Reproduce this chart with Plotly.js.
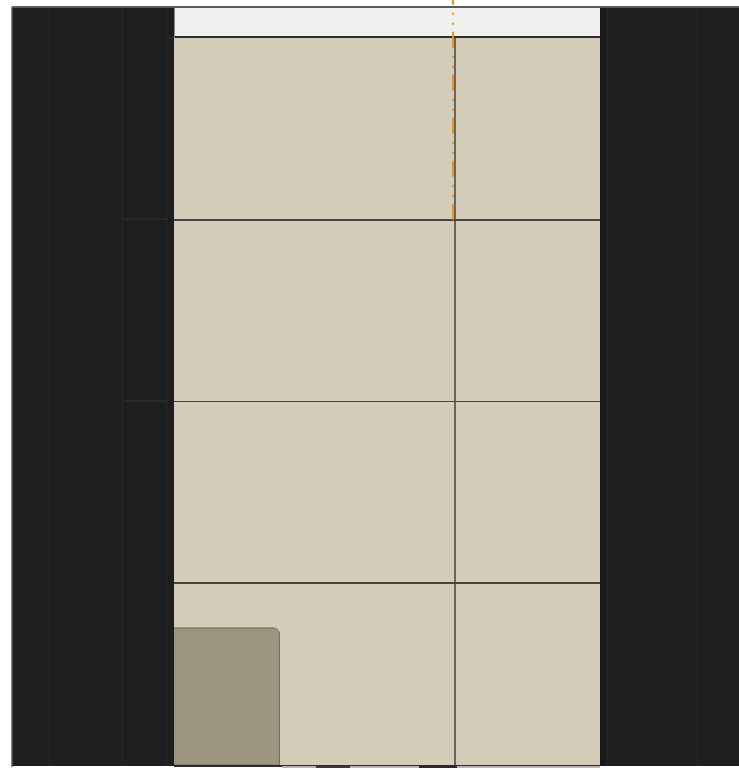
<!DOCTYPE html>
<html>
<head>
<meta charset="utf-8">
<script src="https://cdn.plot.ly/plotly-3.0.1.min.js"></script>
<style>html,body{margin:0;padding:0;background:#fff;overflow:hidden}#chart{width:739px;height:769px}</style>
</head>
<body>
<div id="chart"></div>
<script>
// ---- data ----
const barX = [0.1];
const barWidth = [0.55];
const barValues = [0.754];
const yTicks = [1, 2, 3];
const xTicks = [1];
const refLineX = 0.993;
const refLineFromY = 3;

// ---- layout helpers (pixel -> paper) ----
const L = 174, R = 600, T = 38, B = 765, W = 739, H = 769;
const px = x => (x - L) / (R - L);
const py = y => (B - y) / (B - T);

const dark = '#1e1e1e', faint = '#292929';
function rect(x0, y0, x1, y1, fill) {
  return {type: 'rect', xref: 'paper', yref: 'paper', layer: 'below',
    x0: px(x0), x1: px(x1), y0: py(y1), y1: py(y0), fillcolor: fill, line: {width: 0}};
}
function line(x0, y0, x1, y1, color, width, layer) {
  return {type: 'line', xref: 'paper', yref: 'paper', layer: layer || 'below',
    x0: px(x0), x1: px(x1), y0: py(y0), y1: py(y1), line: {color: color, width: width}};
}

const shapes = [
  rect(12, 7, L, 766, dark),
  rect(R, 7, 745, 766, dark),
  rect(R, 7, 606, 766, '#191919'),
  rect(L, 7, R, T, '#f0f0f0'),
  line(49, 7, 49, 766, faint, 1),
  line(122, 7, 122, 766, faint, 1),
  line(167, 7, 167, 766, faint, 1),
  line(607, 7, 607, 766, faint, 1),
  line(697, 7, 697, 766, faint, 1),
  line(122, 219, 167, 219, '#2e2e2e', 1.5),
  line(122, 401, 167, 401, '#2e2e2e', 1.5),
  line(167, 38, 174, 38, '#2e2e2e', 1.5),
  line(174.5, 7, 174.5, 38, '#8a8a8a', 1, 'above'),
  line(12, 7, 745, 7, '#5a5a5a', 2, 'above'),
  line(12, 7, 12, 767, '#5a5a5a', 1.5, 'above'),
  line(282, 767, 600, 767, '#b5b5b5', 2, 'above'),
  line(316, 767, 350, 767, '#3a3a3a', 2, 'above'),
  line(419, 767, 457, 767, '#2a2a2a', 2, 'above'),
  {type: 'line', xref: 'x', yref: 'paper', layer: 'above',
    x0: refLineX, x1: refLineX, y0: refLineFromY / 4, y1: py(-2),
    line: {color: '#e8921e', width: 2, dash: '16px,7px,2px,8px,2px,8px'}}
];

const data = [{
  type: 'bar', x: barX, y: barValues, width: barWidth,
  marker: {color: '#9e9580', line: {color: '#6b665a', width: 1}, cornerradius: 6},
  hoverinfo: 'skip'
}];

const layout = {
  width: W, height: H,
  margin: {l: L, r: W - R, t: T, b: H - B, pad: 0},
  paper_bgcolor: '#ffffff',
  plot_bgcolor: '#d3ccb9',
  showlegend: false,
  xaxis: {range: [0, 1.516], tickvals: xTicks, showticklabels: false, ticks: '',
    showgrid: true, gridcolor: '#6a665c', gridwidth: 2, zeroline: false,
    showline: true, linecolor: '#2c2c2c', linewidth: 2, mirror: true},
  yaxis: {range: [0, 4], tickvals: yTicks, showticklabels: false, ticks: '',
    showgrid: true, gridcolor: '#47443d', gridwidth: 1.6, zeroline: false, showline: false},
  shapes: shapes,
  hovermode: false
};

Plotly.newPlot('chart', data, layout, {displayModeBar: false, staticPlot: true});
</script>
</body>
</html>
